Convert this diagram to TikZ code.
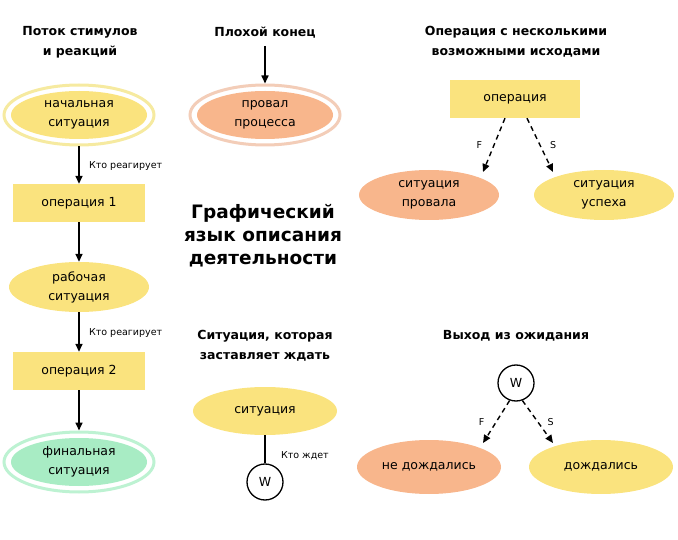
\documentclass[tikz,border=0pt]{standalone}
\usepackage{fontspec}
\setmainfont{DejaVu Sans}
\usetikzlibrary{arrows.meta,shapes.geometric}
\definecolor{yel}{HTML}{FAE37E}
\definecolor{yelring}{HTML}{F6EAA0}
\definecolor{org}{HTML}{F8B68C}
\definecolor{orgring}{HTML}{F3CDB8}
\definecolor{grn}{HTML}{A8ECC4}
\definecolor{grnring}{HTML}{BDF2D2}
\begin{document}
\begin{tikzpicture}[x=1pt,y=-1pt,
  txt/.style={font=\fontsize{12.5}{19}\selectfont,align=center},
  hdr/.style={font=\fontsize{12.5}{20}\selectfont\bfseries,align=center},
  small/.style={font=\fontsize{9.5}{11}\selectfont,anchor=west},
  ell/.style={ellipse,draw=none,fill=#1,minimum width=140,minimum height=50,inner sep=0pt,txt},
  ring/.style={ellipse,draw=#1,line width=3pt,fill=white,minimum width=150,minimum height=60},
  box/.style={rectangle,fill=yel,minimum width=132,minimum height=38,txt},
  arr/.style={-{Triangle[length=8pt,width=7pt]},line width=1.6pt},
  darr/.style={-{Triangle[length=8pt,width=7pt]},line width=1.4pt,dash pattern=on 5pt off 4pt},
  wc/.style={circle,draw,line width=1.3pt,minimum size=36,inner sep=0pt,txt}]
\path[use as bounding box] (0,0) rectangle (678,540);
% left column
\node[hdr] (h1) at (80,42) {Поток стимулов\\и реакций};
\node[ring=yelring] (r1) at (79,115) {};
\node[ell=yel,minimum width=136,minimum height=48] (n1) at (79,115) {начальная\\ситуация};
\node[box] (o1) at (79,203) {операция 1};
\node[ell=yel] (n2) at (79,287) {рабочая\\ситуация};
\node[box] (o2) at (79,371) {операция 2};
\node[ring=grnring] (r3) at (79,462) {};
\node[ell=grn,minimum width=136,minimum height=48] (n3) at (79,462) {финальная\\ситуация};
\draw[arr] (r1.south) -- (o1.north) node[small,midway,right=6pt,yshift=-1pt] {Кто реагирует};
\draw[arr] (o1.south) -- (n2.north);
\draw[arr] (n2.south) -- (o2.north) node[small,midway,right=6pt,yshift=-1pt] {Кто реагирует};
\draw[arr] (o2.south) -- (r3.north);
% bad end
\node[hdr] (h2) at (265,33) {Плохой конец};
\node[ring=orgring] (r2) at (265,115) {};
\node[ell=org,minimum width=136,minimum height=48] (b1) at (265,115) {провал\\процесса};
\coordinate (bs) at (265,46);
\draw[arr] (bs) -- (r2.north);
% big title
\node[font=\fontsize{18.5}{23}\selectfont\bfseries,align=center] (tt) at (263,236) {Графический\\язык описания\\деятельности};
% top right
\node[hdr] (h3) at (516,42) {Операция с несколькими\\возможными исходами};
\node[box,minimum width=130] (op) at (515,99) {операция};
\node[ell=org] (sf) at (429,195) {ситуация\\провала};
\node[ell=yel] (ss) at (604,195) {ситуация\\успеха};
\draw[darr] ([xshift=-10pt]op.south) -- (483,172) node[small,pos=0.5,left=8pt] {F};
\draw[darr] ([xshift=12pt]op.south) -- (553,172) node[small,pos=0.5,right=6pt] {S};
% waiting
\node[hdr] (h4) at (265,346) {Ситуация, которая\\заставляет ждать};
\node[ell=yel,minimum width=144,minimum height=48] (sw) at (265,411) {ситуация};
\node[wc] (w1) at (265,482) {W};
\draw[line width=1.6pt] (sw.south) -- (w1.north) node[small,midway,right=12pt,yshift=-6pt] {Кто ждет};
% exit from waiting
\node[hdr] (h5) at (516,336) {Выход из ожидания};
\node[wc] (w2) at (516,383) {W};
\node[ell=org,minimum width=144,minimum height=54] (nd) at (429,467) {не дождались};
\node[ell=yel,minimum width=144,minimum height=54] (dd) at (601,467) {дождались};
\draw[darr] (w2.250) -- (483,443) node[small,pos=0.5,left=8pt] {F};
\draw[darr] (w2.290) -- (553,443) node[small,pos=0.5,right=6pt] {S};
\end{tikzpicture}
\end{document}
